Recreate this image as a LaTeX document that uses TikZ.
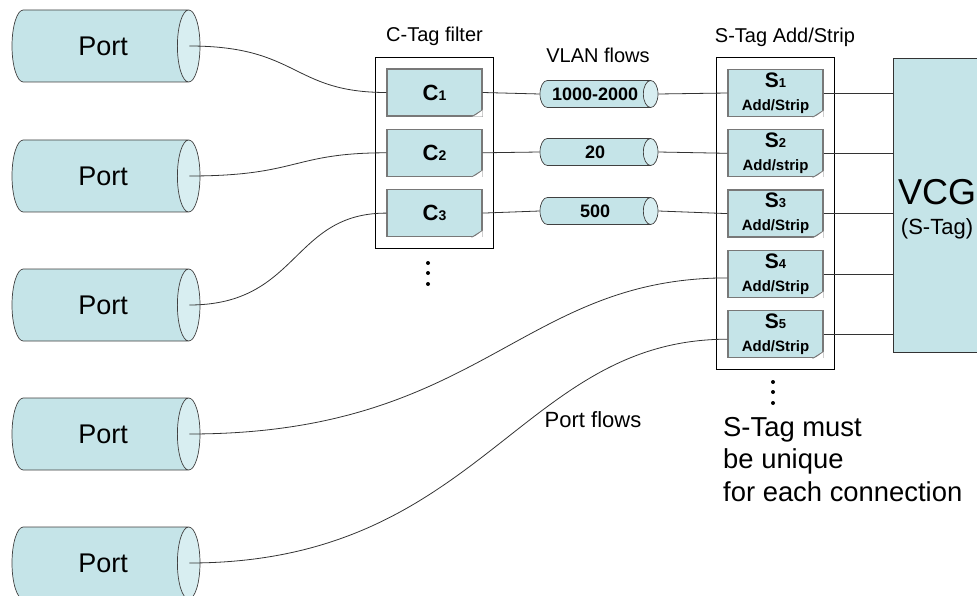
\documentclass[tikz,border=0pt]{standalone}
\usepackage{fontspec}
\setmainfont{Liberation Sans}
\usetikzlibrary{calc, positioning, fit, shapes.geometric}
\definecolor{tagFill}{RGB}{197, 228, 232}
\definecolor{capFill}{RGB}{216, 238, 241}
\definecolor{edgeGray}{RGB}{120, 120, 120}
\definecolor{foldGray}{RGB}{140, 140, 140}

\begin{document}
\begin{tikzpicture}[x=1pt, y=-1pt, node distance=12pt,
  port/.style={cylinder, draw=black!75, line width=0.7pt, shape aspect=1.2,
    cylinder uses custom fill, cylinder body fill=tagFill, cylinder end fill=capFill,
    minimum width=72pt, minimum height=188pt, inner sep=0pt, anchor=shape center,
    font=\fontsize{27}{27}\selectfont},
  flow/.style={cylinder, draw=black!75, line width=0.7pt, shape aspect=1.15,
    cylinder uses custom fill, cylinder body fill=tagFill, cylinder end fill=capFill,
    minimum width=27pt, minimum height=118pt, inner sep=0pt, anchor=shape center,
    font=\fontsize{18}{18}\selectfont\bfseries},
  tagbox/.style={draw=edgeGray, line width=1.3pt, fill=tagFill, minimum width=95pt,
    minimum height=47pt, inner sep=0pt, align=center,
    font=\fontsize{15}{23}\selectfont\bfseries},
  ctag/.style={tagbox, font=\fontsize{22}{22}\selectfont\bfseries},
  group/.style={draw, line width=0.8pt, inner sep=11pt},
  title/.style={font=\fontsize{20}{20}\selectfont, anchor=base},
  link/.style={draw=black!80, line width=0.8pt}]
  \path[use as bounding box, clip] (0,0) rectangle (977,596);

  % ports
  \foreach \i/\y in {1/46, 2/176, 3/305, 4/434, 5/563}
    \node[port] (p\i) at (106,\y) {\hspace{6pt}Port};

  % C-tag filter
  \node[ctag] (C1) at (434.5,92.5) {C{\fontsize{14}{14}\selectfont 1}};
  \node[ctag, below=of C1] (C2) {C{\fontsize{14}{14}\selectfont 2}};
  \node[ctag, below=of C2] (C3) {C{\fontsize{14}{14}\selectfont 3}};
  \node[group, fit=(C1)(C3)] (cfilter) {};
  \node[title] (ctitle) at ([yshift=15pt]cfilter.north) {C-Tag filter};

  % VLAN flows
  \node[flow] (v1) at (599,94) {1000-2000};
  \node[flow] (v2) at (599,152) {20};
  \node[flow] (v3) at (599,211) {500};
  \node[title] (vtitle) at (598,63) {VLAN flows};

  % S-tag add/strip
  \node[tagbox] (S1) at (775.5,93)
    {{\fontsize{21}{23}\selectfont S}{\fontsize{13}{23}\selectfont 1}\\Add/Strip};
  \node[tagbox, below=of S1] (S2)
    {{\fontsize{21}{23}\selectfont S}{\fontsize{13}{23}\selectfont 2}\\Add/strip};
  \node[tagbox, below=of S2] (S3)
    {{\fontsize{21}{23}\selectfont S}{\fontsize{13}{23}\selectfont 3}\\Add/Strip};
  \node[tagbox, below=of S3] (S4)
    {{\fontsize{21}{23}\selectfont S}{\fontsize{13}{23}\selectfont 4}\\Add/Strip};
  \node[tagbox, below=of S4] (S5)
    {{\fontsize{21}{23}\selectfont S}{\fontsize{13}{23}\selectfont 5}\\Add/Strip};
  \node[group, fit=(S1)(S5)] (sfilter) {};
  \node[title] (stitle) at (785,43) {S-Tag Add/Strip};

  % folded corners
  \foreach \n in {C1, C2, C3, S1, S2, S3, S4, S5} {
    \fill[white] (\n.south east) -- ($(\n.south east)+(-11,0)$)
      -- ($(\n.south east)+(0,-7)$) -- cycle;
    \draw[edgeGray, fill=foldGray, line width=0.6pt] ($(\n.south east)+(-11,0)$)
      -- ($(\n.south east)+(0,-7)$) -- ($(\n.south east)+(-7,-2)$) -- cycle;
  }

  % VCG
  \node[draw=black!80, line width=0.9pt, fill=tagFill, minimum width=88pt,
        minimum height=294pt] (vcg) at (937,205) {};
  \node[font=\fontsize{36}{36}\selectfont, anchor=base] (vcgname) at (vcg.center) {VCG};
  \node[font=\fontsize{22}{22}\selectfont, anchor=base] (vcgtag)
    at ([yshift=-29pt]vcg.center) {(S-Tag)};

  % ellipsis and notes
  \foreach \y in {263, 273, 284}
    \fill (428,\y) circle (2pt);
  \foreach \y in {382, 392, 403}
    \fill (773,\y) circle (2pt);
  \node[font=\fontsize{22}{22}\selectfont] (pflows) at (593,420) {Port flows};
  \node[align=left, anchor=north west, inner sep=0pt,
        font=\fontsize{27.4}{32.5}\selectfont] (note) at (723,417)
    {S-Tag must\\be unique\\for each connection};

  % connectors
  \draw[link] ([xshift=-11pt]p1.east) .. controls +(110,0) and +(-95,0) .. (C1.west);
  \draw[link] ([xshift=-11pt]p2.east) .. controls +(110,0) and +(-95,0) .. (C2.west);
  \draw[link] ([xshift=-11pt]p3.east) .. controls +(110,0) and +(-95,0) .. (C3.west);
  \draw[link] ([xshift=-11pt]p4.east) .. controls +(292,0) and +(-208,0) .. ([yshift=-4pt]S4.west);
  \draw[link] ([xshift=-11pt]p5.east) .. controls +(292,0) and +(-208,0) .. ([yshift=-5pt]S5.west);
  \foreach \i in {1,2,3} {
    \draw[link] (C\i.east) -- (v\i.west);
    \draw[link] (v\i.east) -- (S\i.west);
  }
  \foreach \i in {1,...,5}
    \draw[link] (S\i.east) -- (S\i.east -| vcg.west);
\end{tikzpicture}
\end{document}
